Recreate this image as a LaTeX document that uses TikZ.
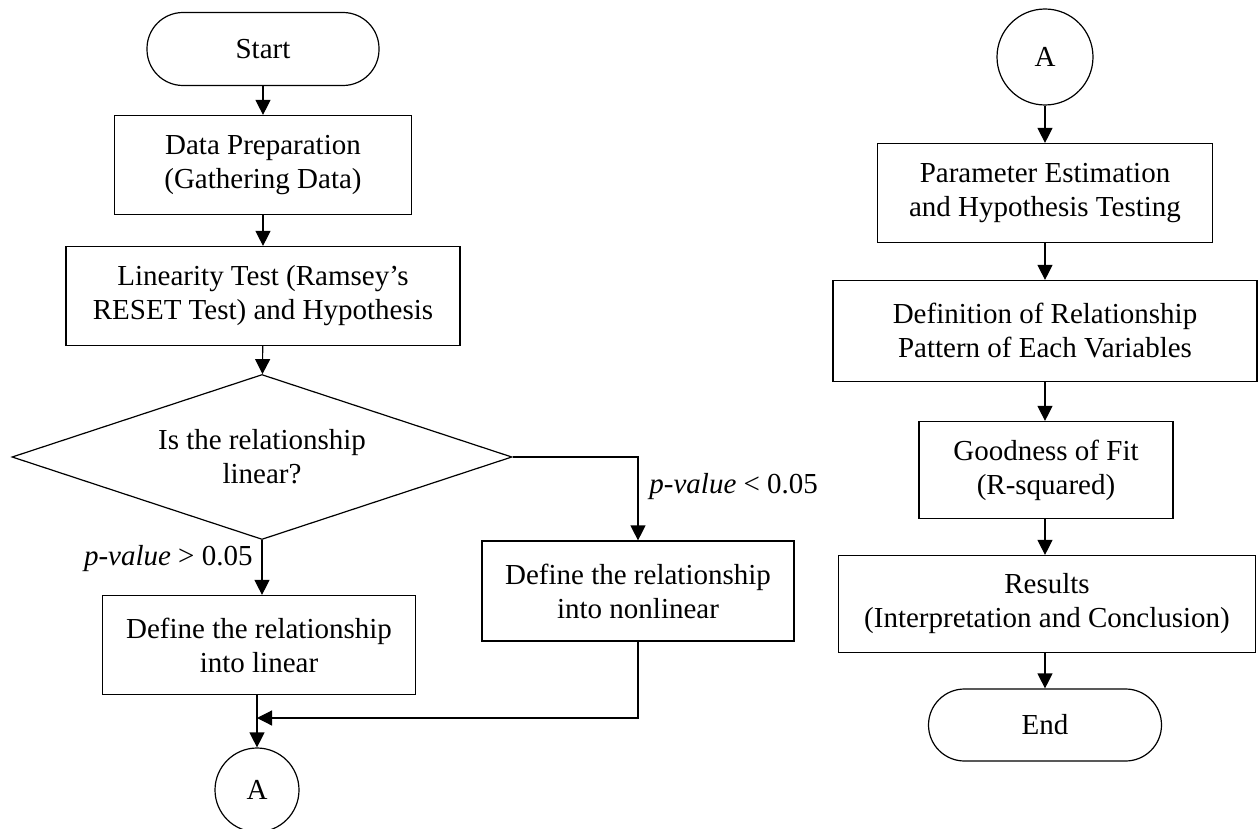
\documentclass[tikz,border=0pt]{standalone}
\usepackage{fontspec}
\setmainfont{Liberation Serif}
\usetikzlibrary{positioning,shapes.geometric,arrows.meta}
\tikzstyle{every node} = [font=\fontsize{14.5pt}{17pt}\selectfont]
\tikzstyle{process} = [draw, rectangle, align=center, minimum height=49.5pt, inner sep=2pt, line width=0.6pt]
\tikzstyle{terminal} = [draw, rectangle, rounded corners=18pt, minimum width=116pt, minimum height=36.5pt, line width=0.6pt]
\tikzstyle{decision} = [draw, diamond, aspect=3, align=center, minimum width=250pt, minimum height=82.5pt, inner sep=0pt, line width=0.6pt]
\tikzstyle{connector} = [draw, circle, inner sep=0pt, line width=0.6pt]
\tikzstyle{flow} = [-{Triangle[length=7.5pt,width=7.5pt]}, line width=0.6pt]
\tikzstyle{pval} = [inner sep=0pt]

\begin{document}
\begin{tikzpicture}[x=0.5pt, y=-0.5pt]
    \useasboundingbox (0,0) rectangle (1258,829);

    \node[terminal] (start) at (263,49) {Start};
    \node[process, minimum width=148.5pt] (prep) at (263,165) {Data Preparation\\(Gathering Data)};
    \node[process, minimum width=197pt] (ramsey) at (263,296) {Linearity Test (Ramsey’s\\RESET Test) and Hypothesis};
    \node[decision] (islinear) at (262,457) {Is the relationship\\linear?};
    \node[process, minimum width=156.5pt] (linear) at (259,645) {Define the relationship\\into linear};
    \node[process, minimum width=156pt, minimum height=50pt] (nonlinear) at (638,591) {Define the relationship\\into nonlinear};
    \node[connector, minimum size=42pt] (aleft) at (257,790) {A};
    \coordinate (merge) at (257,718);

    \node[pval, anchor=base east] (yes) at (253,565) {\textit{p-value} > 0.05};
    \node[pval, anchor=base west] (no) at (649,493) {\textit{p-value} < 0.05};

    \node[connector, minimum size=48pt] (aright) at (1045,57) {A};
    \node[process, minimum width=167.5pt] (param) at (1045,193) {Parameter Estimation\\and Hypothesis Testing};
    \node[process, minimum width=212pt, minimum height=50.5pt] (pattern) at (1045,331) {Definition of Relationship\\Pattern of Each Variables};
    \node[process, minimum width=127pt, minimum height=48.5pt] (fit) at (1046,470) {Goodness of Fit\\(R-squared)};
    \node[process, minimum width=208.5pt, minimum height=48.5pt] (results) at (1047,604) {Results\\(Interpretation and Conclusion)};
    \node[terminal, minimum width=116.5pt, minimum height=36pt] (finish) at (1045,725) {End};

    \draw[flow] (start) -- (prep);
    \draw[flow] (prep) -- (ramsey);
    \draw[flow] (ramsey) -- (islinear);
    \draw[flow] (islinear.south) -- (islinear.south |- linear.north);
    \draw[flow] (islinear.east) -| (nonlinear.north);
    \draw[flow] (linear.south -| aleft) -- (aleft);
    \draw[flow] (nonlinear.south) |- (merge);

    \draw[flow] (aright) -- (param);
    \draw[flow] (param) -- (pattern);
    \draw[flow] (pattern) -- (fit.north -| pattern);
    \draw[flow] (fit.south -| pattern) -- (results.north -| pattern);
    \draw[flow] (results.south -| pattern) -- (finish);
\end{tikzpicture}
\end{document}
